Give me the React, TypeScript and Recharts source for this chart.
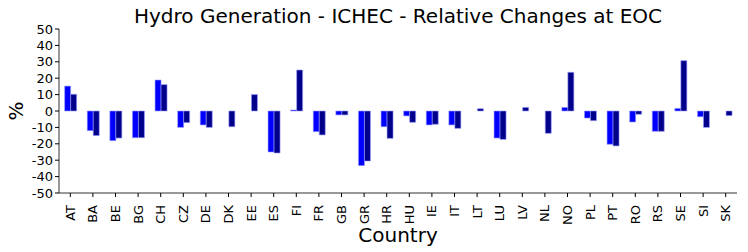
import React from 'react';
import { BarChart, Bar, XAxis, YAxis } from 'recharts';

const countries = ['AT', 'BA', 'BE', 'BG', 'CH', 'CZ', 'DE', 'DK', 'EE', 'ES', 'FI', 'FR', 'GB', 'GR', 'HR',
  'HU', 'IE', 'IT', 'LT', 'LU', 'LV', 'NL', 'NO', 'PL', 'PT', 'RO', 'RS', 'SE', 'SI', 'SK'];
const seriesA = [15.2, -12.0, -18.1, -16.3, 18.9, -10.0, -8.5, 0, 0, -25.0, 0.6, -12.6, -2.4, -33.3, -9.6,
  -3.0, -8.5, -8.5, 0, -16.5, 0, 0, 2.2, -4.3, -20.3, -6.7, -12.4, 1.6, -3.5, 0];
const seriesB = [10.2, -15.0, -16.5, -16.3, 16.1, -7.1, -10.0, -9.6, 10.0, -25.6, 25.0, -14.6, -2.4, -30.5, -16.7,
  -6.9, -8.1, -10.6, 1.4, -17.3, 2.2, -13.6, 23.6, -5.9, -21.3, -2.0, -12.4, 30.7, -10.0, -2.8];
const yTicks = [-50, -40, -30, -20, -10, 0, 10, 20, 30, 40, 50];

const data = countries.map((c, i) => ({ country: c, a: seriesA[i], b: seriesB[i] }));

const font = 'DejaVu Sans, sans-serif';

const CountryTick = (props: any) => {
  const { x, y, payload } = props;
  return (
    <text x={x} y={y + 6} transform={`rotate(-90, ${x}, ${y + 6})`} textAnchor="end" dominantBaseline="central"
      fontSize={13} fontFamily={font} fill="#000">
      {payload.value}
    </text>
  );
};

const App: React.FC = () => {
  return (
    <div style={{ position: 'absolute', left: 0, top: 0, width: 748, height: 252, background: '#fff' }}>
      <BarChart width={748} height={252} data={data} barCategoryGap="25%" barGap={0}
        margin={{ top: 29, right: 11, bottom: 19, left: 19 }}>
        <text x={398} y={23} textAnchor="middle" fontSize={20} fontFamily={font} fill="#000">
          Hydro Generation - ICHEC - Relative Changes at EOC
        </text>
        <text x={398} y={242} textAnchor="middle" fontSize={20} fontFamily={font} fill="#000">Country</text>
        <text x={16} y={111} transform="rotate(-90, 16, 111)" textAnchor="middle" dominantBaseline="central"
          fontSize={20} fontFamily={font} fill="#000">%</text>
        <XAxis dataKey="country" interval={0} height={40} tick={<CountryTick />} tickLine={{ stroke: '#000' }}
          tickSize={4} axisLine={{ stroke: '#333' }} />
        <XAxis xAxisId="top" orientation="top" dataKey="country" height={0} tick={false} tickLine={false}
          axisLine={{ stroke: '#888' }} />
        <YAxis domain={[-50, 50]} ticks={yTicks} width={40} tickSize={4} interval={0}
          tick={{ fontSize: 13, fontFamily: font, fill: '#000' }} tickLine={{ stroke: '#000' }}
          axisLine={{ stroke: '#333' }} />
        <YAxis yAxisId="right" orientation="right" width={0} domain={[-50, 50]} tick={false} tickLine={false}
          axisLine={{ stroke: '#888' }} />
        <Bar dataKey="a" fill="#0000ff" stroke="#9a9aff" strokeWidth={0.6} isAnimationActive={false} />
        <Bar dataKey="b" fill="#00008b" stroke="#9a9aff" strokeWidth={0.6} isAnimationActive={false} />
      </BarChart>
    </div>
  );
};

export default App;
